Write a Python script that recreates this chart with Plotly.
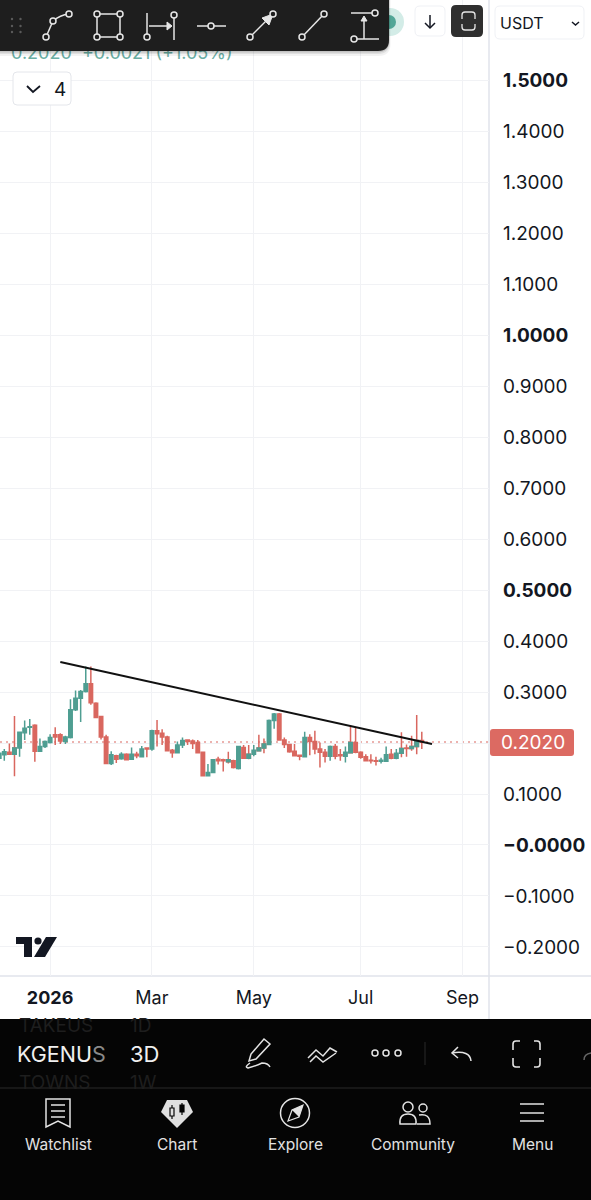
import plotly.graph_objects as go

# candle values, left to right
opens = [.170,.177,.182,.178,.190,.220,.231,.235,.184,.193,.201,.216,.216,.203,.211,.265,.288,.301,.316,.278,.252,.212,.160,.175,
         .169,.178,.168,.178,.173,.190,.188,.224,.219,.212,.186,.181,.196,.206,.204,.201,.182,.136,.142,.168,.167,.163,.165,.150,
         .191,.170,.178,.185,.190,.197,.244,.257,.206,.197,.184,.176,.173,.211,.203,.188,.182,.174,.193,.177,.174,.181,.201,.182,
         .173,.166,.165,.164,.164,.178,.170,.180,.190,.189,.193,.205]
closes = [.180,.183,.178,.190,.221,.229,.232,.184,.193,.203,.211,.212,.204,.212,.265,.288,.301,.316,.279,.250,.212,.160,.177,.168,
          .178,.167,.178,.175,.188,.188,.224,.218,.212,.185,.181,.196,.205,.203,.199,.181,.136,.142,.167,.165,.165,.167,.152,.193,
          .170,.178,.186,.190,.198,.244,.257,.206,.197,.183,.175,.174,.211,.203,.188,.182,.174,.193,.174,.175,.182,.201,.182,.172,
          .165,.165,.164,.166,.177,.170,.180,.189,.189,.193,.205,.2020]
highs = [.183,.188,.199,.253,.221,.244,.247,.237,.209,.205,.217,.231,.219,.214,.286,.303,.304,.350,.350,.280,.253,.216,.184,.177,
         .182,.180,.191,.183,.194,.190,.226,.245,.227,.214,.188,.203,.211,.207,.207,.206,.183,.159,.168,.173,.169,.183,.167,.194,
         .196,.196,.196,.216,.209,.246,.259,.259,.211,.198,.198,.176,.222,.217,.224,.201,.188,.195,.198,.188,.193,.234,.231,.184,
         .178,.178,.173,.171,.193,.188,.188,.221,.197,.214,.255,.222]
lows = [.168,.165,.177,.135,.173,.206,.216,.163,.183,.190,.199,.196,.198,.198,.209,.263,.241,.299,.275,.250,.207,.159,.157,.161,
        .167,.166,.167,.170,.172,.172,.185,.193,.196,.184,.171,.180,.190,.196,.188,.180,.135,.135,.142,.158,.144,.160,.150,.148,
        .169,.168,.174,.184,.180,.196,.228,.205,.190,.181,.175,.166,.172,.176,.178,.152,.162,.165,.168,.165,.162,.180,.180,.169,
        .164,.160,.156,.160,.163,.168,.168,.172,.173,.185,.178,.188]
# green bodies that carry a red wick
red_wick_ids = [3,45,49,51,52,69,79,81,82]

trend_x = [12, 85]
trend_y = [.3588, .198]
last_price = 0.2020

y_ticks = [-0.2,-0.1,0,0.1,0.2,0.3,0.4,0.5,0.6,0.7,0.8,0.9,1.0,1.1,1.2,1.3,1.4,1.5]
y_labels = ["−0.2000","−0.1000","<b>−0.0000</b>","0.1000","","0.3000","0.4000","<b>0.5000</b>","0.6000","0.7000","0.8000","0.9000",
            "<b>1.0000</b>","1.1000","1.2000","1.3000","1.4000","<b>1.5000</b>"]
x_ticks = [10,30,50,71,91]
x_labels = ["<b>2026</b>","Mar","May","Jul","Sep"]
nav_labels = ["Watchlist","Chart","Explore","Community","Menu"]

GREEN = "#4f9e92"
RED = "#d9675f"

fig = go.Figure()
idx = list(range(len(opens)))
def pick(arr, ids):
    return [arr[i] for i in ids]

def add_candles(ids, color, op=opens, cl=closes, hi=highs, lo=lows):
    style = dict(line=dict(color=color,width=1.5),fillcolor=color)
    fig.add_trace(go.Candlestick(x=ids, open=pick(op,ids), close=pick(cl,ids), high=pick(hi,ids), low=pick(lo,ids),
                                 increasing=style, decreasing=style, whiskerwidth=0))

downs = [i for i in idx if closes[i] < opens[i]]
ups = [i for i in idx if closes[i] >= opens[i] and i not in red_wick_ids]
body_top = [max(o,c) for o,c in zip(opens,closes)]
body_bot = [min(o,c) for o,c in zip(opens,closes)]

add_candles(downs, RED)
add_candles(ups, GREEN)
add_candles(red_wick_ids, RED)
add_candles(red_wick_ids, GREEN, hi=body_top, lo=body_bot)
fig.add_trace(go.Scatter(x=trend_x, y=trend_y, mode="lines", line=dict(color="#111111",width=2), hoverinfo="skip"))

# header text goes under the toolbar, so it has to be a trace on the pixel axes
fig.add_trace(go.Scatter(x=[11], y=[54], xaxis="x2", yaxis="y2", mode="text", text=["0.2020  +0.0021 (+1.05%)"], textposition="middle right",
    textfont=dict(family="Inter", size=18, color="#6aaea4"), hoverinfo="skip"))

shapes = []
annots = []

def rrect(x0,y0,x1,y1,r,fill,line=None,lw=1):
    p = f"M{x0+r},{y0} L{x1-r},{y0} Q{x1},{y0} {x1},{y0+r} L{x1},{y1-r} Q{x1},{y1} {x1-r},{y1} L{x0+r},{y1} Q{x0},{y1} {x0},{y1-r} L{x0},{y0+r} Q{x0},{y0} {x0+r},{y0} Z"
    shapes.append(dict(type="path",path=p,xref="x2",yref="y2",fillcolor=fill,line=dict(color=line or "rgba(0,0,0,0)",width=lw if line else 0),layer="above"))

def ln(x0,y0,x1,y1,color="#e6e6e6",w=1.5):
    shapes.append(dict(type="line",x0=x0,y0=y0,x1=x1,y1=y1,xref="x2",yref="y2",line=dict(color=color,width=w),layer="above"))

def circ(cx,cy,r,line="#e6e6e6",fill="#1e1e1e",w=1.5):
    shapes.append(dict(type="circle",x0=cx-r,y0=cy-r,x1=cx+r,y1=cy+r,xref="x2",yref="y2",fillcolor=fill,line=dict(color=line,width=w),layer="above"))

def pth(p,color="#e6e6e6",w=1.5,fill="rgba(0,0,0,0)"):
    shapes.append(dict(type="path",path=p,xref="x2",yref="y2",fillcolor=fill,line=dict(color=color,width=w),layer="above"))

def txt(x,y,s,size=16,color="#131722",anchor="left",family="Inter"):
    annots.append(dict(x=x,y=y,xref="x2",yref="y2",text=s,showarrow=False,xanchor=anchor,yanchor="middle",
                       font=dict(family=family,size=size,color=color)))

# axis borders and price line sit under the candles
shapes.append(dict(type="line",x0=489/591,x1=489/591,y0=224/1200-43/1200,y1=1,xref="paper",yref="paper",line=dict(color="#e0e3eb",width=1.5),layer="below"))
shapes.append(dict(type="line",x0=0,x1=1,y0=224/1200,y1=224/1200,xref="paper",yref="paper",line=dict(color="#e0e3eb",width=1.5),layer="below"))
shapes.append(dict(type="line",x0=0,x1=489/591,y0=last_price,y1=last_price,xref="paper",yref="y",layer="below",line=dict(color=RED,width=1.2,dash="2px,4px")))

# price tag
rrect(490,729,574,756,3,"#dc6a62")
txt(533,742.5,"0.2020",19,"#ffffff","center")

# glow behind the toolbar
circ(390,22,14,"rgba(0,0,0,0)","#d3ece7",0)
circ(389,22,7,"rgba(0,0,0,0)","#52a697",0)

# toolbar
for k,a in [(5,.05),(3,.08),(1.5,.12)]:
    rrect(-12,-12,389+k*0.3,51+k,12,f"rgba(0,0,0,{a})")
rrect(-12,-12,389,51,11,"#1e1e1e")
for gx in (12,20.5):
    for gy in (19,26,32):
        circ(gx,gy,1.2,"rgba(0,0,0,0)","#5a5a5a",0)
# curve tool
ln(46,37,53,21); pth("M53,21 Q60,15 69,14")
circ(46,37,3); circ(53,21,3); circ(69,14,3)
# rectangle tool
shapes.append(dict(type="rect",x0=97,y0=14,x1=120,y1=37,xref="x2",yref="y2",line=dict(color="#e6e6e6",width=1.5),layer="above"))
for cx,cy in [(97,14),(120,14),(97,37),(120,37)]:
    circ(cx,cy,3)
# date range tool
ln(147,13,147,34); circ(147,37,3)
ln(149,26,170,26); pth("M167,22 L172,26 L167,30 Z",fill="#e6e6e6",w=1)
ln(174,18,174,40); circ(174,15,3)
# horizontal tool
ln(197,26,226,26); circ(211,26,3)
# arrow tool
ln(252,35,268,19); pth("M273,14 L269,25 L262,18 Z",fill="#e6e6e6",w=1)
circ(250,37,3); circ(273,14,3)
# line tool
ln(302,37,324,14); circ(302,37,3); circ(324,14,3)
# price range tool
ln(351,13,372,13); circ(375,13,3)
ln(357,39,379,39); circ(354,39,3)
ln(364,39,364,20); pth("M361,21 L364,16 L367,21 Z",fill="#e6e6e6",w=1)

# buttons
rrect(415,6,445,36,5,"#ffffff","#eff1f5")
ln(430,15,430,28,"#131722",1.5); pth("M425,23 L430,28 L435,23","#131722",1.5)
rrect(451,5,483,37,5,"#2f2f2f")
pth("M462,19 L462,15 Q462,12 465,12 L472,12 Q475,12 475,15 L475,19","#e6e6e6",1.3)
pth("M462,24 L462,27 Q462,30 465,30 L472,30 Q475,30 475,27 L475,24","#e6e6e6",1.3)
rrect(495,6,584,39,5,"#ffffff","#eff1f5")
txt(498,23,"USDT",16)
pth("M572,22 L575.5,25 L579,22","#131722",1.5)
rrect(13,72,71,105,4,"#ffffff","#e4e6eb")
pth("M27,86 L33,92 L40,86","#131722",1.8)
txt(52,89,"4",19)

# watermark logo
pth("M16,937 L32,937 L32,957 L24,957 L24,944 L16,944 Z","#131722",0,"#131722")
circ(38,941,3.6,"rgba(0,0,0,0)","#131722",0)
pth("M46,937 L57,937 L45,957 L34,957 Z","#131722",0,"#131722")

# bottom bars
rrect(0,1019,591,1200,0,"#050505")
txt(17,1025,"TAKEUS",19,"#1e1e1e")
txt(128,1025,"1D",19,"#1e1e1e")
txt(15,1054,'KGENU<span style="color:#8a8a8a">S</span>',21.5,"#f0f0f0")
txt(128,1054,"3D",22,"#f0f0f0")
txt(17,1082,"TOWNS",19,"#1e1e1e")
txt(128,1082,"1W",19,"#1e1e1e")
ln(0,1088,591,1088,"#2a2a2a",1)

W = "#e4e4e4"
# pen
pth("M264,1039 L270,1044 L256,1059 L249,1061 L251,1054 Z",W,1.5)
pth("M250,1063 Q244,1067 248,1068 Q256,1066 262,1063 Q268,1063 270,1067",W,1.5)
# double chevrons
pth("M308,1058 L316,1050 L323,1056 L330,1048 L337,1052",W,1.5)
pth("M310,1062 L316,1056 L323,1062 L336,1053",W,1.5)
for cx in (375,386,398):
    circ(cx,1053,3,W,"#050505",1.5)
ln(425,1042,425,1065,"#2a2a2a",1)
# undo
pth("M458,1047 L452,1053 L458,1058",W,1.5)
pth("M452,1053 Q470,1050 471,1061",W,1.5)
# fullscreen
pth("M513,1050 L513,1044 Q513,1041 516,1041 L520,1041",W,1.6)
pth("M534,1041 L537,1041 Q540,1041 540,1044 L540,1050",W,1.6)
pth("M540,1058 L540,1064 Q540,1067 537,1067 L534,1067",W,1.6)
pth("M520,1067 L516,1067 Q513,1067 513,1064 L513,1058",W,1.6)
pth("M584,1060 Q584,1054 591,1053","#666666",1.5)

# watchlist
pth("M46,1099 L70,1099 L70,1127 L58,1121 L46,1127 Z",W,1.5)
for ly in (1105,1111,1117):
    ln(51,ly,65,ly,W,1.5)
# chart
pth("M167,1100 L187,1100 L193,1112 L177,1128 L161,1112 Z",W,0,"#e0e0e0")
ln(172,1105,172,1119,"#050505",1.2)
shapes.append(dict(type="rect",x0=170,y0=1108,x1=174,y1=1116,xref="x2",yref="y2",fillcolor="#e0e0e0",line=dict(color="#050505",width=1.2),layer="above"))
ln(182,1103,182,1115,"#050505",1.2)
shapes.append(dict(type="rect",x0=180,y0=1105,x1=184,y1=1112,xref="x2",yref="y2",fillcolor="#050505",line=dict(color="#050505",width=1.2),layer="above"))
# explore
circ(295,1113,14.5,W,"#050505",1.5)
pth("M303,1105 L299,1117 L288,1121 L292,1110 Z",W,1.2,"#050505")
pth("M303,1105 L299,1117 L292,1110 Z",W,0,W)
# community
circ(408,1107,5,W,"#050505",1.5)
circ(423,1108,4,W,"#050505",1.5)
pth("M400,1124 Q399,1114 408,1114 Q417,1114 416,1124 Z",W,1.5)
pth("M419,1115 Q430,1113 430,1124 L417,1124",W,1.5)
# menu
for ly in (1104,1113,1121):
    ln(520,ly,544,ly,W,1.5)

for xc,label in zip((58,177,295,413,532),nav_labels):
    txt(xc,1144,label,15.5,"#e2e2e2","center")

fig.update_layout(
    width=591, height=1200, margin=dict(l=0,r=0,t=0,b=0),
    paper_bgcolor="#ffffff", plot_bgcolor="rgba(0,0,0,0)", showlegend=False, boxmode="overlay", boxgap=0.32, boxgroupgap=0,
    font=dict(family="Inter", color="#131722"),
    xaxis=dict(domain=[0,489/591], range=[0.157,96.2], rangeslider=dict(visible=False), tickmode="array", tickvals=x_ticks, ticktext=x_labels,
               tickfont=dict(size=18), showgrid=True, gridcolor="#f1f2f5", gridwidth=1.2, zeroline=False, ticks="", showline=False, anchor="y", ticklabelstandoff=9),
    yaxis=dict(domain=[224/1200,1], range=[-0.2569,1.657], side="right", anchor="x", tickmode="array", tickvals=y_ticks, ticktext=y_labels,
               tickfont=dict(size=19), showgrid=True, gridcolor="#f1f2f5", gridwidth=1.2, zeroline=False, ticks="", showline=False, ticklabelstandoff=13),
    xaxis2=dict(domain=[0,1], range=[0,591], visible=False, fixedrange=True, anchor="y2"),
    yaxis2=dict(domain=[0,1], range=[1200,0], visible=False, fixedrange=True, anchor="x2"),
    shapes=shapes, annotations=annots,
)

fig.write_html("out.html", config=dict(displayModeBar=False), post_script="document.body.style.margin='0';document.body.style.overflow='hidden';")
